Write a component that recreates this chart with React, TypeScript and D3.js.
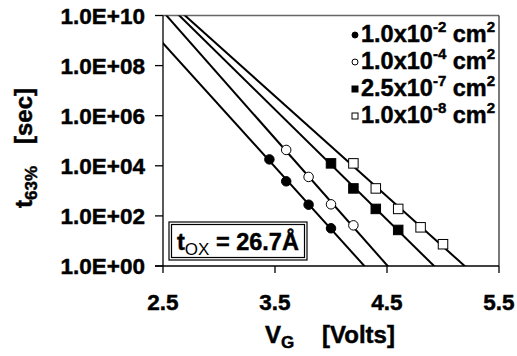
import React from "react";
import * as d3 from "d3";

const W = 517;
const H = 356;

// tick values / labels
const xTicks = [2.5, 3.5, 4.5, 5.5];
const xTickLabels = ["2.5", "3.5", "4.5", "5.5"];
const yTicks = [1, 1e2, 1e4, 1e6, 1e8, 1e10];
const yTickLabels = ["1.0E+00", "1.0E+02", "1.0E+04", "1.0E+06", "1.0E+08", "1.0E+10"];

// series (gate voltage [V], t63% [s])
const s1V = [3.45, 3.6, 3.8, 4.0];
const s1T = [1.8e4, 2.4e3, 2.8e2, 3.2e1];
const s2V = [3.6, 3.8, 4.0, 4.2];
const s2T = [4.3e4, 3.6e3, 2.9e2, 4.2e1];
const s3V = [4.0, 4.2, 4.4, 4.6];
const s3T = [1.25e4, 1.25e3, 1.9e2, 2.75e1];
const s4V = [4.2, 4.4, 4.6, 4.8, 5.0];
const s4T = [1.25e4, 1.25e3, 1.9e2, 3.5e1, 7.4];

const legendMant = ["1.0x10", "1.0x10", "2.5x10", "1.0x10"];
const legendExp = ["-2", "-4", "-7", "-8"];
const markerKinds = ["dot", "circle", "fsquare", "osquare"];

const FONT = "Arial, 'Liberation Sans', sans-serif";
const HEAVY = { stroke: "#000", strokeWidth: 0.45 };

const L = 163, R = 499, T = 15.5, B = 266;

function fit(vs: number[], ts: number[]) {
  const ls = ts.map((t) => Math.log10(t));
  const mx = d3.mean(vs)!;
  const my = d3.mean(ls)!;
  let sxy = 0, sxx = 0;
  vs.forEach((v, i) => {
    sxy += (v - mx) * (ls[i] - my);
    sxx += (v - mx) * (v - mx);
  });
  const b = sxy / sxx;
  return { b, a: my - b * mx };
}

function Marker({ kind, x, y, s }: { kind: string; x: number; y: number; s: number }) {
  if (kind === "dot") return <circle cx={x} cy={y} r={s * 0.5} fill="#000" stroke="#000" strokeWidth={1} />;
  if (kind === "circle") return <circle cx={x} cy={y} r={s * 0.5} fill="#fff" stroke="#000" strokeWidth={1} />;
  if (kind === "fsquare")
    return <rect x={x - s / 2} y={y - s / 2} width={s} height={s} fill="#000" stroke="#000" strokeWidth={1} />;
  return <rect x={x - s / 2} y={y - s / 2} width={s} height={s} fill="#fff" stroke="#000" strokeWidth={1} />;
}

export default function App() {
  const x = d3.scaleLinear().domain([2.5, 5.5]).range([L, R]);
  const y = d3.scaleLog().domain([1, 1e10]).range([B, T]);
  const series = [
    { v: s1V, t: s1T },
    { v: s2V, t: s2T },
    { v: s3V, t: s3T },
    { v: s4V, t: s4T },
  ];

  return (
    <svg width={W} height={H} style={{ position: "absolute", left: 0, top: 0, background: "#fff" }}>
      <defs>
        <clipPath id="plot">
          <rect x={L} y={T} width={R - L} height={B - T} />
        </clipPath>
      </defs>
      <rect x={0} y={0} width={W} height={H} fill="#fff" />
      {/* plot border top/right */}
      <line x1={L} y1={T} x2={R} y2={T} stroke="#666" strokeWidth={1.3} />
      <line x1={R} y1={T} x2={R} y2={B} stroke="#333" strokeWidth={1.3} />

      {/* trend lines */}
      <g clipPath="url(#plot)">
        {series.map((s, i) => {
          const { a, b } = fit(s.v, s.t);
          const vs = [2.3, 5.7];
          const d = d3
            .line<number>()
            .x((v) => x(v))
            .y((v) => y(Math.pow(10, a + b * v)))(vs);
          return <path key={i} d={d!} fill="none" stroke="#000" strokeWidth={2} />;
        })}
      </g>

      {/* axes */}
      <line x1={L} y1={T} x2={L} y2={B} stroke="#000" strokeWidth={1.3} />
      <line x1={L - 8} y1={B} x2={R} y2={B} stroke="#000" strokeWidth={1.3} />
      {yTicks.map((t, i) => (
        <g key={i}>
          <line x1={L - 8} x2={L} y1={y(t)} y2={y(t)} stroke="#000" strokeWidth={1.3} />
          <text
            x={145}
            y={y(t)}
            dy="0.36em"
            textAnchor="end"
            fontFamily={FONT}
            fontWeight="bold"
            fontSize={22.5}
            {...HEAVY}
          >
            {yTickLabels[i]}
          </text>
        </g>
      ))}
      {xTicks.map((t, i) => (
        <g key={i}>
          <line x1={x(t)} x2={x(t)} y1={B} y2={B + 7} stroke="#000" strokeWidth={1.3} />
          <text x={x(t)} y={310} textAnchor="middle" fontFamily={FONT} fontWeight="bold" fontSize={22.5} {...HEAVY}>
            {xTickLabels[i]}
          </text>
        </g>
      ))}

      {/* markers */}
      {series.map((s, i) =>
        s.v.map((v, j) => <Marker key={i + "-" + j} kind={markerKinds[i]} x={x(v)} y={y(s.t[j])} s={i < 2 ? 9.5 : 9.5} />)
      )}

      {/* legend */}
      {legendMant.map((m, i) => {
        const by = 42 + i * 27;
        return (
          <g key={i}>
            <Marker kind={markerKinds[i]} x={355} y={by - 7} s={6} />
            <text x={361} y={by} fontFamily={FONT} fontWeight="bold" fontSize={23.5} {...HEAVY}>
              {m}
              <tspan dy={-10} fontSize={15}>
                {legendExp[i]}
              </tspan>
              <tspan dy={10}> cm</tspan>
              <tspan dy={-10} fontSize={15}>
                2
              </tspan>
            </text>
          </g>
        );
      })}

      {/* annotation box */}
      <rect x={169} y={222} width={138} height={38} fill="#fff" stroke="#000" strokeWidth={1.2} />
      <rect x={171.5} y={224.5} width={133} height={33} fill="none" stroke="#000" strokeWidth={1.2} />
      <text x={177} y={250} fontFamily={FONT} fontWeight="bold" fontSize={23.5} {...HEAVY}>
        t
        <tspan dy={5} fontSize={17} fontWeight="normal" strokeWidth={0}>
          OX
        </tspan>
        <tspan dy={-5}> = 26.7Å</tspan>
      </text>

      {/* axis titles */}
      <text x={265} y={343} fontFamily={FONT} fontWeight="bold" fontSize={24} {...HEAVY}>
        V
        <tspan dy={5} fontSize={17}>
          G
        </tspan>
        <tspan dy={-5} x={322}>
          [Volts]
        </tspan>
      </text>
      <text transform="translate(32,208) rotate(-90)" fontFamily={FONT} fontWeight="bold" fontSize={24} {...HEAVY}>
        t
        <tspan dy={5} fontSize={17}>
          63%
        </tspan>
        <tspan dy={-5} dx={22}>
          [sec]
        </tspan>
      </text>
    </svg>
  );
}
